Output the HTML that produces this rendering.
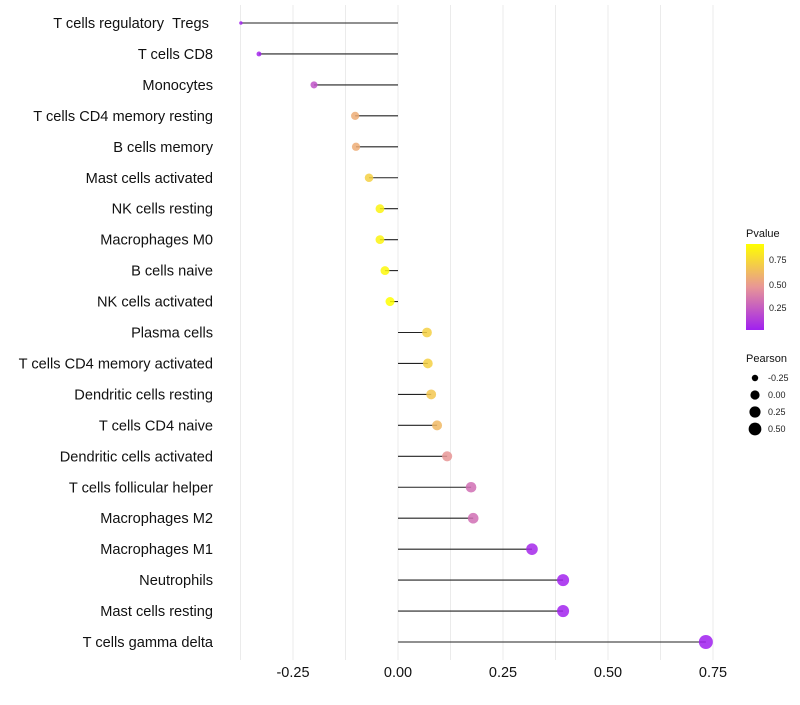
<!DOCTYPE html>
<html><head><meta charset="utf-8"><style>
body{margin:0;background:#fff;font-family:"Liberation Sans",sans-serif}
svg text{font-family:"Liberation Sans",sans-serif}
</style></head><body>
<svg id="c" width="800" height="700"></svg>
<script>
const categories=["T cells regulatory\u00a0\u00a0Tregs\u00a0","T cells CD8","Monocytes","T cells CD4 memory resting","B cells memory","Mast cells activated","NK cells resting","Macrophages M0","B cells naive","NK cells activated","Plasma cells","T cells CD4 memory activated","Dendritic cells resting","T cells CD4 naive","Dendritic cells activated","T cells follicular helper","Macrophages M2","Macrophages M1","Neutrophils","Mast cells resting","T cells gamma delta"];
const pearson=[-0.374,-0.331,-0.2,-0.102,-0.1,-0.069,-0.043,-0.043,-0.031,-0.019,0.069,0.071,0.079,0.093,0.117,0.174,0.179,0.319,0.393,0.393,0.733];
const pvalues=[0.01,0.02,0.2,0.55,0.55,0.7,0.85,0.85,0.87,0.9,0.7,0.7,0.66,0.6,0.45,0.3,0.3,0.03,0.01,0.01,0.0];
const xTicks=[-0.25,0,0.25,0.5,0.75];
const xTickLabels=["-0.25","0.00","0.25","0.50","0.75"];
const xGrid=[-0.375,-0.25,-0.125,0,0.125,0.25,0.375,0.5,0.625,0.75];
const sizeLegend=[-0.25,0,0.25,0.5];
const NS="http://www.w3.org/2000/svg";
const svg=document.getElementById('c');
const x=v=>398+v*420;
const y=i=>23+i*30.95;
const rad=v=>1.2+5.8*Math.sqrt(Math.max(0,(v+0.384)/1.117));
function lerp(a,b,t){return a.map((c,i)=>Math.round(c+(b[i]-c)*t));}
function col(p){const s=[[160,32,240],[232,150,150],[255,255,0]];let t=Math.max(0,Math.min(1,p/0.9));
const c=t<0.5?lerp(s[0],s[1],t*2):lerp(s[1],s[2],(t-0.5)*2);return `rgb(${c})`;}
function el(t,a,p){const e=document.createElementNS(NS,t);for(const k in a)e.setAttribute(k,a[k]);(p||svg).appendChild(e);return e;}
xGrid.forEach(v=>{const g=el('line',{x1:x(v),x2:x(v),y1:5,y2:660,stroke:'#ebebeb','stroke-width':1});

});
xTicks.forEach((v,i)=>{const t=el('text',{x:x(v),y:677,'text-anchor':'middle','font-size':14.5,fill:'#111'});t.textContent=xTickLabels[i];

});
categories.forEach((c,i)=>{
const t=el('text',{x:213,y:y(i)+5,'text-anchor':'end','font-size':14.6,fill:'#111'});t.textContent=c;


const l=el('line',{x1:x(0),x2:x(pearson[i]),y1:y(i),y2:y(i),stroke:'#222','stroke-width':1.1});


const d=el('circle',{cx:x(pearson[i]),cy:y(i),r:rad(pearson[i]),fill:col(pvalues[i]),'fill-opacity':0.85});


});
const lt=el('text',{x:746,y:237,'font-size':11,fill:'#111'});lt.textContent='Pvalue';


const defs=el('defs',{});const gr=el('linearGradient',{id:'g',x1:0,y1:1,x2:0,y2:0},defs);
[[0,0],[0.5,0.45],[1,0.9]].forEach(s=>el('stop',{offset:s[0],'stop-color':col(s[1])},gr));
const cb=el('rect',{x:746,y:244,width:18,height:86,fill:'url(#g)'});


[[0.75,259],[0.5,284],[0.25,307]].forEach(a=>{const t=el('text',{x:769,y:a[1]+4,'font-size':9,fill:'#222'});t.textContent=a[0].toFixed(2);

});
const st=el('text',{x:746,y:362,'font-size':11,fill:'#111'});st.textContent='Pearson';


sizeLegend.forEach((v,i)=>{const cy=378+i*17;
const c=el('circle',{cx:755,cy:cy,r:rad(v),fill:'#000'});


const t=el('text',{x:768,y:cy+3,'font-size':9,fill:'#222'});t.textContent=v.toFixed(2);

});
</script>
</body></html>
